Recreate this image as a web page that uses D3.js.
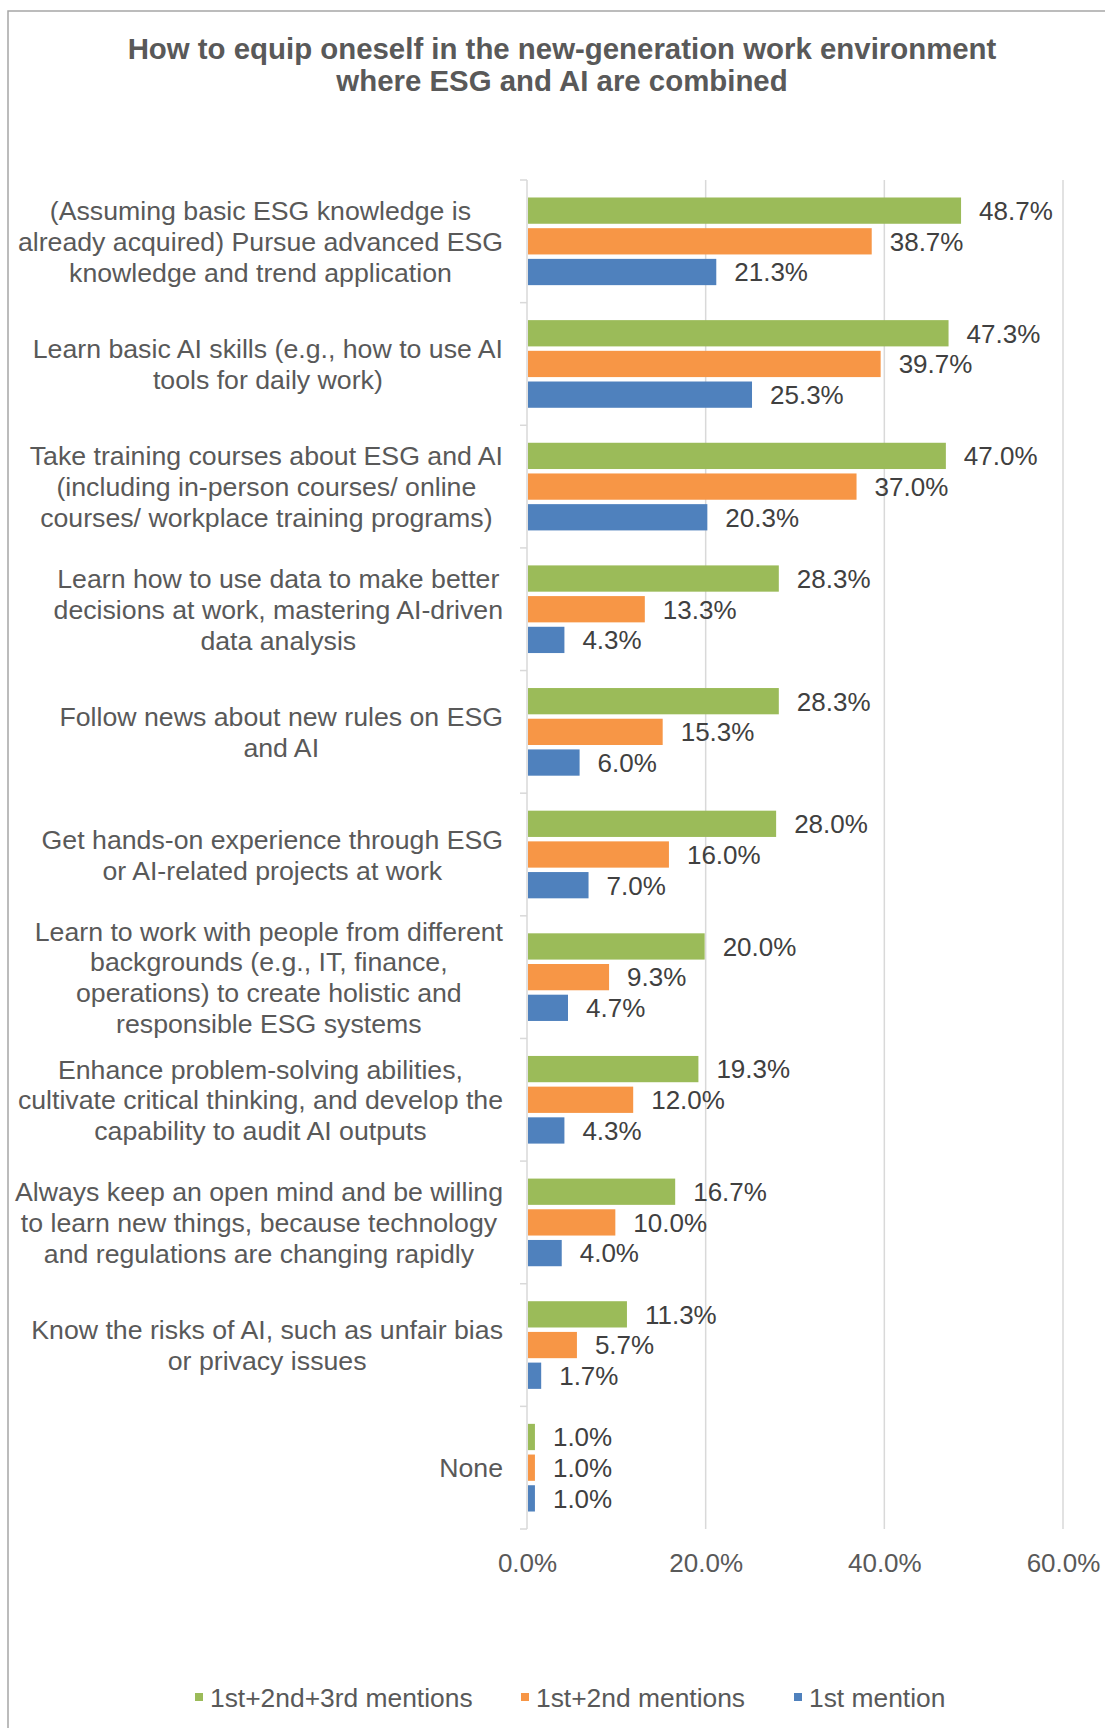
<!DOCTYPE html>
<html>
<head>
<meta charset="utf-8">
<title>ESG and AI chart</title>
<script src="https://d3js.org/d3.v7.min.js"></script>
<style>
  body { margin: 0; background: #fff; }
  text { font-family: "Liberation Sans", Arial, sans-serif; }
</style>
</head>
<body>
<script>
// categories, each one split in the lines shown in the picture
var categories = [
  ["(Assuming basic ESG knowledge is", "already acquired) Pursue advanced ESG", "knowledge and trend application"],
  ["Learn basic AI skills (e.g., how to use AI", "tools for daily work)"],
  ["Take training courses about ESG and AI", "(including in-person courses/ online", "courses/ workplace training programs)"],
  ["Learn how to use data to make better", "decisions at work, mastering AI-driven", "data analysis"],
  ["Follow news about new rules on ESG", "and AI"],
  ["Get hands-on experience through ESG", "or AI-related projects at work"],
  ["Learn to work with people from different", "backgrounds (e.g., IT, finance,", "operations) to create holistic and", "responsible ESG systems"],
  ["Enhance problem-solving abilities,", "cultivate critical thinking, and develop the", "capability to audit AI outputs"],
  ["Always keep an open mind and be willing", "to learn new things, because technology", "and regulations are changing rapidly"],
  ["Know the risks of AI, such as unfair bias", "or privacy issues"],
  ["None"]
];
var seriesNames = ["1st+2nd+3rd mentions", "1st+2nd mentions", "1st mention"];
var top3 = [48.7, 47.3, 47.0, 28.3, 28.3, 28.0, 20.0, 19.3, 16.7, 11.3, 1.0];
var top2 = [38.7, 39.7, 37.0, 13.3, 15.3, 16.0, 9.3, 12.0, 10.0, 5.7, 1.0];
var top1 = [21.3, 25.3, 20.3, 4.3, 6.0, 7.0, 4.7, 4.3, 4.0, 1.7, 1.0];
var xTicks = [0, 20, 40, 60];
var colors = ["#9BBB59", "#F79646", "#4F81BD"];

var width = 1105, height = 1728;
var svg = d3.select("body").append("svg")
  .attr("width", width)
  .attr("height", height);

// outer frame
svg.append("rect")
  .attr("x", 8).attr("y", 11)
  .attr("width", 1130).attr("height", 1760)
  .attr("fill", "none").attr("stroke", "#a6a6a6").attr("stroke-width", 1.5);

// title
var title = svg.append("text")
  .attr("text-anchor", "middle")
  .attr("font-size", "29.4px").attr("font-weight", "bold")
  .attr("fill", "#595959");
title.append("tspan").attr("x", 562).attr("y", 59).text("How to equip oneself in the new-generation work environment");
title.append("tspan").attr("x", 562).attr("y", 91).text("where ESG and AI are combined");

var plotTop = 180, plotBottom = 1529, x0 = 527, x60 = 1063;

var xScale = d3.scaleLinear().domain([0, 60]).range([x0, x60]);
var yScale = d3.scaleBand().domain(d3.range(categories.length)).range([plotTop, plotBottom]);
var inner = d3.scaleBand().domain([0, 1, 2]).range([0, yScale.bandwidth()])
  .paddingInner(0.144).paddingOuter(0.57);

// gridlines
svg.append("g").selectAll("line")
  .data(xTicks.slice(1))
  .enter().append("line")
  .attr("x1", function(d) { return xScale(d); })
  .attr("x2", function(d) { return xScale(d); })
  .attr("y1", plotTop).attr("y2", plotBottom)
  .attr("stroke", "#d9d9d9").attr("stroke-width", 1.5);

// x axis labels
var xAxis = d3.axisBottom(xScale).tickValues(xTicks)
  .tickFormat(function(d) { return d.toFixed(1) + "%"; })
  .tickSize(0).tickPadding(25);
var gx = svg.append("g").attr("transform", "translate(0," + plotBottom + ")").call(xAxis);
gx.select(".domain").remove();
gx.selectAll("text").attr("font-size", "26px").attr("fill", "#595959")
  .attr("font-family", "Liberation Sans, Arial, sans-serif");

// y axis line with ticks at band edges
svg.append("line")
  .attr("x1", x0).attr("x2", x0).attr("y1", plotTop).attr("y2", plotBottom)
  .attr("stroke", "#d9d9d9").attr("stroke-width", 1.5);
svg.append("g").selectAll("line")
  .data(d3.range(categories.length + 1))
  .enter().append("line")
  .attr("x1", x0 - 7).attr("x2", x0)
  .attr("y1", function(i) { return plotTop + i * yScale.step(); })
  .attr("y2", function(i) { return plotTop + i * yScale.step(); })
  .attr("stroke", "#d9d9d9").attr("stroke-width", 1.5);

// bars
var series = [top3, top2, top1];
var groups = svg.append("g").selectAll("g")
  .data(categories.map(function(c, i) { return i; }))
  .enter().append("g")
  .attr("transform", function(i) { return "translate(0," + yScale(i) + ")"; });

groups.selectAll("rect")
  .data(function(i) { return series.map(function(s, k) { return {k: k, v: s[i]}; }); })
  .enter().append("rect")
  .attr("x", x0 + 1)
  .attr("y", function(d) { return inner(d.k); })
  .attr("width", function(d) { return xScale(d.v) - x0 - 2; })
  .attr("height", inner.bandwidth())
  .attr("fill", function(d) { return colors[d.k]; });

groups.selectAll("text.val")
  .data(function(i) { return series.map(function(s, k) { return {k: k, v: s[i]}; }); })
  .enter().append("text")
  .attr("class", "val")
  .attr("x", function(d) { return xScale(d.v) + 17; })
  .attr("y", function(d) { return inner(d.k) + inner.bandwidth() / 2; })
  .attr("dy", "0.36em")
  .attr("font-size", "26px").attr("fill", "#404040")
  .text(function(d) { return d.v.toFixed(1) + "%"; });

// category labels: lines centred inside a block aligned to the axis
var labelRight = 503, lineH = 30.8;
groups.each(function(i) {
  var g = d3.select(this);
  var lines = categories[i];
  var t = g.append("text").attr("text-anchor", "middle")
    .attr("font-size", "26.7px").attr("fill", "#595959");
  var spans = t.selectAll("tspan").data(lines).enter().append("tspan")
    .attr("y", function(d, j) { return yScale.bandwidth() / 2 + (j - (lines.length - 1) / 2) * lineH; })
    .attr("dy", "0.36em")
    .text(function(d) { return d; });
  var maxW = 0;
  spans.each(function() { maxW = Math.max(maxW, this.getComputedTextLength()); });
  spans.attr("x", labelRight - maxW / 2);
});

// legend
var legendX = [195, 521, 794];
var leg = svg.append("g").selectAll("g")
  .data(seriesNames)
  .enter().append("g")
  .attr("transform", function(d, i) { return "translate(" + legendX[i] + ",1697)"; });
leg.append("rect").attr("x", 0).attr("y", -4).attr("width", 8).attr("height", 8)
  .attr("fill", function(d, i) { return colors[i]; });
leg.append("text").attr("x", 15).attr("dy", "0.36em")
  .attr("font-size", "26.4px").attr("fill", "#595959")
  .text(function(d) { return d; });
</script>
</body>
</html>
